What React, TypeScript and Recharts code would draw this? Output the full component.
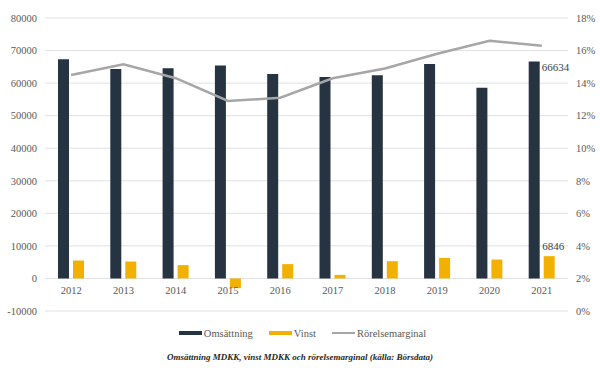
import React from 'react';
import {
  ComposedChart, Bar, Line, XAxis, YAxis, CartesianGrid, Legend, LabelList,
} from 'recharts';

const years = ['2012', '2013', '2014', '2015', '2016', '2017', '2018', '2019', '2020', '2021'];
const omsattning = [67300, 64300, 64600, 65400, 62800, 61900, 62400, 65900, 58600, 66634];
const vinst = [5500, 5200, 4100, -3000, 4400, 1100, 5300, 6300, 5800, 6846];
const marginal = [0.145, 0.1515, 0.143, 0.129, 0.131, 0.143, 0.149, 0.158, 0.166, 0.163];

const leftTicks = [-10000, 0, 10000, 20000, 30000, 40000, 50000, 60000, 70000, 80000];
const rightTicks = [0, 0.02, 0.04, 0.06, 0.08, 0.1, 0.12, 0.14, 0.16, 0.18];

const data = years.map((y, i) => ({
  year: y,
  oms: omsattning[i],
  vinst: vinst[i],
  marg: marginal[i],
}));

const FONT = "'Liberation Serif', 'Times New Roman', serif";
const TICK_COLOR = '#595959';

const YearTick = (props: any) => {
  const { x, y, payload } = props;
  return (
    <text x={x} y={y - 25} textAnchor="middle" style={{ fontFamily: FONT }} fontSize={10.5} fill={TICK_COLOR}>
      {payload.value}
    </text>
  );
};

const OmsLabel = (props: any) => {
  const { x, y, width, index, value } = props;
  if (index !== data.length - 1) return null;
  return (
    <text x={x + width + 2} y={y + 9} style={{ fontFamily: FONT }} fontSize={11} fill="#404040">
      {value}
    </text>
  );
};

const VinstLabel = (props: any) => {
  const { x, y, width, index, value } = props;
  if (index !== data.length - 1) return null;
  return (
    <text x={x + width / 2 + 4} y={y - 6} textAnchor="middle" style={{ fontFamily: FONT }} fontSize={11} fill="#404040">
      {value}
    </text>
  );
};

const legendItems = [
  { name: 'Omsättning', color: '#263340', h: 4 },
  { name: 'Vinst', color: '#f2b000', h: 4 },
  { name: 'Rörelsemarginal', color: '#a6a6a6', h: 2 },
];

const LegendContent = () => (
  <div style={{ display: 'flex', justifyContent: 'center', alignItems: 'center', fontFamily: FONT, fontSize: 10.5, color: '#595959', height: 20 }}>
    {legendItems.map((it, i) => (
      <div key={it.name} style={{ display: 'flex', alignItems: 'center', marginLeft: i === 0 ? 0 : 16 }}>
        <span style={{ display: 'inline-block', width: 23, height: it.h, background: it.color, marginRight: 2 }} />
        <span style={{ fontFamily: FONT }}>{it.name}</span>
      </div>
    ))}
  </div>
);

const tickStyle = { fontFamily: FONT, fontSize: 10.5, fill: TICK_COLOR };

export default function App() {
  return (
    <div style={{ position: 'absolute', left: 0, top: 0, width: 600, height: 368, background: '#fff', fontFamily: FONT }}>
      <ComposedChart
        width={600}
        height={368}
        data={data}
        margin={{ top: 18, right: 0, left: 5, bottom: 36 }}
        barGap={4}
        barCategoryGap="25%"
        style={{ fontFamily: FONT }}
      >
        <CartesianGrid yAxisId="left" vertical={false} stroke="#e0e0e0" strokeWidth={1} />
        <XAxis dataKey="year" axisLine={false} tickLine={false} height={1} tick={<YearTick />} interval={0} />
        <YAxis
          yAxisId="left"
          domain={[-10000, 80000]}
          ticks={leftTicks}
          axisLine={false}
          tickLine={false}
          width={40}
          tick={tickStyle}
          interval={0}
        />
        <YAxis
          yAxisId="right"
          orientation="right"
          domain={[0, 0.18]}
          ticks={rightTicks}
          axisLine={false}
          tickLine={false}
          width={32}
          tick={{ ...tickStyle, textAnchor: 'start' }}
          tickFormatter={(v: number) => `${Math.round(v * 100)}%`}
          interval={0}
        />
        <Bar yAxisId="left" dataKey="oms" name="Omsättning" fill="#263340" barSize={11} isAnimationActive={false}>
          <LabelList dataKey="oms" content={<OmsLabel />} />
        </Bar>
        <Bar yAxisId="left" dataKey="vinst" name="Vinst" fill="#f2b000" barSize={11} isAnimationActive={false}>
          <LabelList dataKey="vinst" content={<VinstLabel />} />
        </Bar>
        <Line
          yAxisId="right"
          dataKey="marg"
          name="Rörelsemarginal"
          type="linear"
          stroke="#a6a6a6"
          strokeWidth={2.5}
          dot={false}
          isAnimationActive={false}
        />
        <Legend verticalAlign="bottom" height={20} content={<LegendContent />} wrapperStyle={{ bottom: 25 }} />
      </ComposedChart>
      <div
        style={{
          position: 'absolute',
          left: 0,
          top: 352,
          width: 600,
          textAlign: 'center',
          fontFamily: FONT,
          fontStyle: 'italic',
          fontWeight: 'bold',
          fontSize: 9,
          color: '#262626',
        }}
      >
        Omsättning MDKK, vinst MDKK och rörelsemarginal (källa: Börsdata)
      </div>
    </div>
  );
}
